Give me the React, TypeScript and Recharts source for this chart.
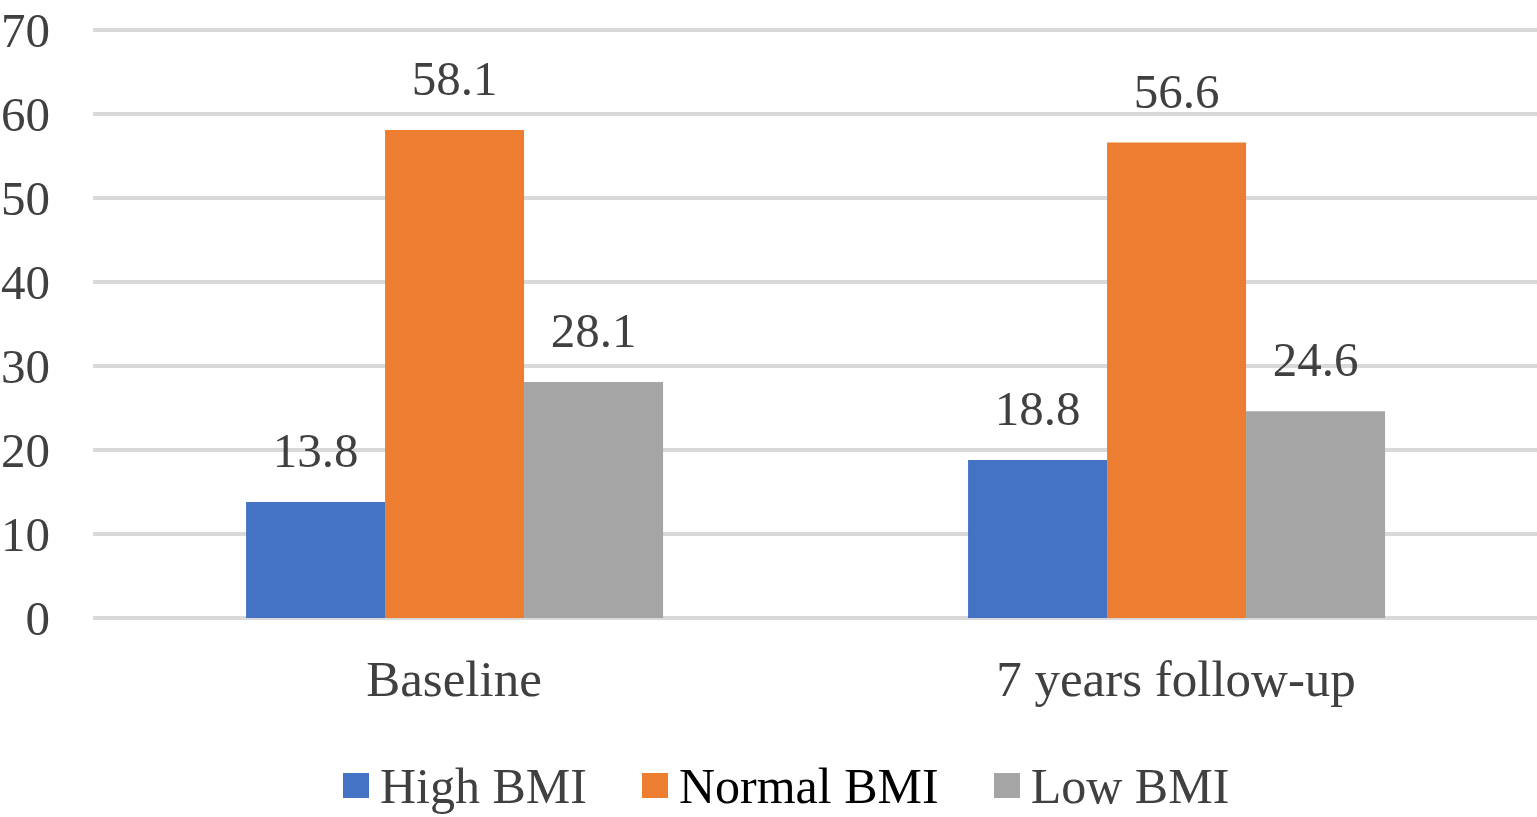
import { BarChart, Bar, XAxis, YAxis, CartesianGrid, Legend, LabelList } from 'recharts';

const categories = ['Baseline', '7 years follow-up'];
const highBmi = [13.8, 18.8];
const normalBmi = [58.1, 56.6];
const lowBmi = [28.1, 24.6];
const yTicks = [0, 10, 20, 30, 40, 50, 60, 70];

const seriesInfo = [
  { key: 'high', name: 'High BMI', color: '#4472c4', textColor: '#404040' },
  { key: 'normal', name: 'Normal BMI', color: '#ed7d31', textColor: '#000000' },
  { key: 'low', name: 'Low BMI', color: '#a5a5a5', textColor: '#404040' },
];

const chartData = categories.map((name, i) => ({
  name,
  high: highBmi[i],
  normal: normalBmi[i],
  low: lowBmi[i],
}));

const FONT = '"Liberation Serif", "Times New Roman", serif';
const TEXT = '#404040';

// legend drawn by hand so "Normal BMI" can keep its black text
const renderLegend = () => (
  <div
    style={{
      height: 109,
      boxSizing: 'border-box',
      paddingTop: 46,
      paddingLeft: 343,
      display: 'flex',
      alignItems: 'center',
      fontFamily: FONT,
      fontSize: 50,
      lineHeight: '58px',
    }}
  >
    {seriesInfo.map((s) => (
      <div key={s.key} style={{ display: 'flex', alignItems: 'center', marginRight: 55 }}>
        <div style={{ width: 26, height: 25, backgroundColor: s.color, marginRight: 11 }} />
        <span style={{ color: s.textColor }}>{s.name}</span>
      </div>
    ))}
  </div>
);

export default function App() {
  return (
    <div style={{ width: 1537, height: 817, background: '#fff' }}>
      <style>{'body { margin: 0; }'}</style>
      <BarChart
        width={1537}
        height={817}
        data={chartData}
        margin={{ top: 30, right: 0, left: 0, bottom: 0 }}
        barGap={0}
        barCategoryGap="21.2%"
      >
        <CartesianGrid vertical={false} stroke="#d9d9d9" strokeWidth={4} />
        <XAxis
          dataKey="name"
          axisLine={false}
          tickLine={false}
          tickSize={0}
          tickMargin={42}
          height={90}
          tick={{ fill: TEXT, fontSize: 51, fontFamily: FONT }}
        />
        <YAxis
          domain={[0, 70]}
          ticks={yTicks}
          axisLine={false}
          tickLine={false}
          tickSize={0}
          tickMargin={43}
          width={93}
          tick={{ fill: TEXT, fontSize: 49, fontFamily: FONT }}
        />
        <Legend verticalAlign="bottom" content={renderLegend} />
        {seriesInfo.map((s) => (
          <Bar key={s.key} dataKey={s.key} name={s.name} fill={s.color} isAnimationActive={false}>
            <LabelList
              dataKey={s.key}
              position="top"
              offset={35}
              fill={TEXT}
              fontSize={49}
              fontFamily={FONT}
            />
          </Bar>
        ))}
      </BarChart>
    </div>
  );
}
